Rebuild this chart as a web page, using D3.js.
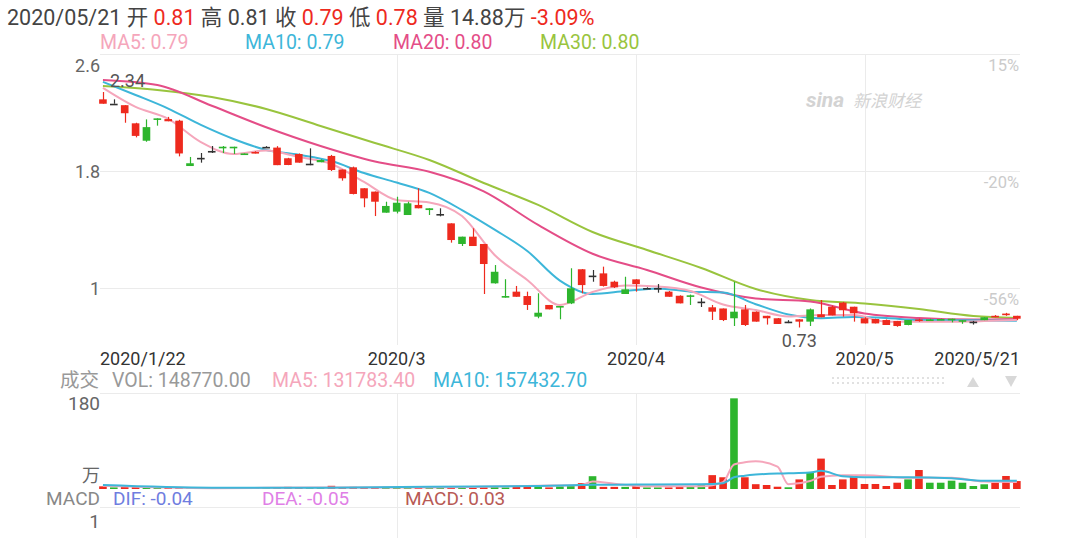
<!DOCTYPE html>
<html><head><meta charset="utf-8">
<script src="https://cdn.jsdelivr.net/npm/d3@7"></script>
<style>body{margin:0;background:#fff;}svg{display:block;font-family:Roboto,"Noto Sans CJK SC",sans-serif;}</style>
</head><body><svg id="c" width="1080" height="538"></svg>
<script>
const dates = [
"2020-01-22","2020-01-23","2020-01-24","2020-01-27","2020-01-28","2020-01-29","2020-01-30","2020-01-31",
"2020-02-03","2020-02-04","2020-02-05","2020-02-06","2020-02-07","2020-02-10","2020-02-11","2020-02-12","2020-02-13","2020-02-14",
"2020-02-18","2020-02-19","2020-02-20","2020-02-21","2020-02-24","2020-02-25","2020-02-26","2020-02-27","2020-02-28",
"2020-03-02","2020-03-03","2020-03-04","2020-03-05","2020-03-06","2020-03-09","2020-03-10","2020-03-11","2020-03-12","2020-03-13",
"2020-03-16","2020-03-17","2020-03-18","2020-03-19","2020-03-20","2020-03-23","2020-03-24","2020-03-25","2020-03-26","2020-03-27",
"2020-03-30","2020-03-31",
"2020-04-01","2020-04-02","2020-04-03","2020-04-06","2020-04-07","2020-04-08","2020-04-09","2020-04-13","2020-04-14","2020-04-15",
"2020-04-16","2020-04-17","2020-04-20","2020-04-21","2020-04-22","2020-04-23","2020-04-24","2020-04-27","2020-04-28","2020-04-29","2020-04-30",
"2020-05-01","2020-05-04","2020-05-05","2020-05-06","2020-05-07","2020-05-08","2020-05-11","2020-05-12","2020-05-13","2020-05-14","2020-05-15",
"2020-05-18","2020-05-19","2020-05-20","2020-05-21"];
const opens = [2.29,2.26,2.25,2.126,2.007,2.15,2.155,2.144,1.834,1.89, 1.937,1.96,1.958,1.915,1.93,1.965,1.96,1.887,1.916,1.85,
 1.86,1.903,1.81,1.825,1.682,1.659,1.515,1.522,1.499,1.568, 1.533,1.506,1.442,1.301,1.351,1.301,1.032,0.934,0.975,0.945,
 0.804,0.884,0.87,0.895,1.128,1.085,1.10,1.043,0.959,1.059, 1.0,1.0,0.975,0.947,0.945,0.907,0.868,0.86,0.793,0.854,
 0.838,0.81,0.793,0.77,0.786,0.77,0.82,0.872,0.90,0.872, 0.793,0.788,0.781,0.774,0.747,0.785,0.775,0.78,0.783,0.775,
 0.77,0.78,0.81,0.825,0.81];
const highs = [2.34,2.29,2.25,2.13,2.153,2.16,2.17,2.15,1.896,1.923, 1.971,1.971,1.966,1.92,1.935,1.97,1.97,1.89,1.92,1.955,
 1.88,1.91,1.81,1.83,1.682,1.66,1.59,1.624,1.59,1.682, 1.545,1.545,1.442,1.351,1.408,1.301,1.157,1.06,1.014,0.975,
 0.964,0.884,0.877,1.135,1.13,1.123,1.146,1.05,1.077,1.06, 1.005,1.027,0.98,0.95,0.955,0.93,0.884,0.86,1.043,0.884,
 0.84,0.81,0.795,0.78,0.786,0.86,0.918,0.88,0.905,0.872, 0.80,0.79,0.785,0.775,0.781,0.79,0.79,0.79,0.79,0.78,
 0.775,0.80,0.815,0.83,0.81];
const lows = [2.26,2.26,2.13,2.03,2.0,2.11,2.14,1.90,1.834,1.857, 1.923,1.923,1.916,1.915,1.92,1.96,1.84,1.84,1.857,1.84,
 1.86,1.80,1.734,1.64,1.552,1.492,1.515,1.51,1.499,1.545, 1.499,1.49,1.31,1.287,1.287,0.959,1.03,0.934,0.94,0.85,
 0.793,0.854,0.786,0.89,0.964,1.043,1.01,1.0,0.959,0.975, 0.995,0.968,0.94,0.895,0.884,0.87,0.781,0.774,0.74,0.74,
 0.77,0.75,0.754,0.76,0.73,0.74,0.80,0.813,0.804,0.77, 0.758,0.758,0.747,0.735,0.745,0.77,0.775,0.78,0.765,0.755,
 0.75,0.78,0.80,0.81,0.78];
const closes = [2.26,2.26,2.195,2.04,2.10,2.16,2.14,1.92,1.853,1.89, 1.937,1.966,1.966,1.92,1.92,1.965,1.84,1.841,1.857,1.85,
 1.875,1.807,1.75,1.643,1.613,1.59,1.561,1.583,1.579,1.545, 1.545,1.506,1.328,1.351,1.287,1.164,1.111,0.945,0.94,0.884,
 0.831,0.854,0.877,0.998,1.02,1.085,1.014,1.005,0.991,1.027, 1.0,1.0,0.94,0.895,0.95,0.907,0.838,0.781,0.838,0.747,
 0.77,0.793,0.754,0.77,0.77,0.854,0.80,0.813,0.848,0.827, 0.758,0.758,0.747,0.74,0.781,0.775,0.785,0.788,0.79,0.78,
 0.77,0.80,0.80,0.815,0.79];
// volume in 万
const volumes = [5,3,4,4,3,2,2,3,2,1.5, 1.5,1.5,2,1.5,1.5,1.5,2,4,3,3, 2,6,3,4,3,3,4,3,3,3, 2,5,3,3,3,4,4,3,4,4,
 4,3,5,6, 11,24,4,4,4,7,3,3,3,4, 4,9,26,22,170,22,9,7.5,4.3,3.2, 18,32,57,7.5,18,26,9.4,9.4,5.6,11.8,
 18,35.6,11.8,11.8,15.6,11.8,5.6,8.8,11.8,24.4, 14.88];
// moving averages (sample index -> value)
const maIdxFine = [0,3,6,9,12,15,18,21,24,27,30,33,36,39,42,45,48,51,54,57,60,63,66,69,72,75,78,81,84];
const ma5 = [2.368,2.238,2.156,1.998,1.916,1.940,1.896,1.848,1.725,1.602,1.585,1.492,1.226,1.055,0.884,0.973,1.017,1.010,0.979,0.887,0.850,0.805,0.815,0.815,0.770,0.770,0.770,0.774,0.781];
const ma10 = [2.409,2.320,2.227,2.115,2.019,1.944,1.911,1.868,1.786,1.721,1.650,1.533,1.399,1.253,1.051,0.959,0.979,0.997,0.975,0.969,0.889,0.819,0.794,0.802,0.795,0.781,0.780,0.778,0.776];
const maIdxCoarse = [0,5,10,15,20,25,30,35,40,45,50,55,60,65,70,75,80,84];
const ma20 = [2.422,2.388,2.246,2.099,1.971,1.865,1.795,1.661,1.431,1.234,1.123,1.003,0.928,0.908,0.826,0.795,0.784,0.788];
const ma30 = [2.381,2.354,2.306,2.224,2.108,1.991,1.875,1.718,1.568,1.383,1.260,1.137,0.993,0.918,0.894,0.856,0.809,0.795];
const volMaIdx = [0,10,20,30,40,44,45,47,50,55,57,58,59,60,62,63,65,66,68,70,74,78,81,84];
const volMa5 = [6,1.5,3,3,6,7.5,14,10,5,5,13,46,50,52,42,9,15,23,26,26,21,21,14,13.2];
const volMa10 = [7.5,2.5,2.5,4,5.6,7.5,8,8,8.5,9,11,22,25,27,29,29.5,31,34,24,22,22,20,15.6,15.7];
const priceTicks = [2.6, 1.8, 1];
const pctTicks = ["15%", "-20%", "-56%"];
const xTickDates = ["2020-01-22","2020-03-02","2020-04-01","2020-05-01","2020-05-21"];
const xTickLabels = ["2020/1/22","2020/3","2020/4","2020/5","2020/5/21"];

const RED = "#ee2a1e", GREEN = "#2db52d", DARK = "#333";
const C_MA5 = "#f5a6bb", C_MA10 = "#3db6d9", C_MA20 = "#e44d87", C_MA30 = "#99c43e";
const svg = d3.select("#c");
svg.append("rect").attr("width",1080).attr("height",538).attr("fill","#fff");

const x = d3.scaleBand().domain(dates).range([97.5, 1022.3]).paddingInner(0.3).paddingOuter(0.15);
const cx = i => x(dates[i]) + x.bandwidth()/2;
const y = d3.scaleLinear().domain([1, 2.6]).range([288, 54]);
const yv = d3.scaleLinear().domain([0, 180]).range([489, 393]);
const L = 100, R = 1020;
const grid = "#ebebeb";
const LEG = 19.5, AX = 18;

// grid
const g = svg.append("g");
priceTicks.forEach(t => g.append("line").attr("x1",L).attr("x2",R).attr("y1",y(t)+0.5).attr("y2",y(t)+0.5).attr("stroke",grid));
g.append("line").attr("x1",L).attr("x2",R).attr("y1",yv(180)+0.5).attr("y2",yv(180)+0.5).attr("stroke",grid);
g.append("line").attr("x1",L).attr("x2",R).attr("y1",507.5).attr("y2",507.5).attr("stroke",grid);
xTickDates.slice(1,4).forEach(d => {
  const xx = Math.round(x(d)+x.bandwidth()/2)+0.5;
  [[54,345],[393,538]].forEach(([a,b]) => g.append("line").attr("x1",xx).attr("x2",xx).attr("y1",a).attr("y2",b).attr("stroke",grid));
});

// watermark
svg.append("text").attr("x",806).attr("y",107).attr("font-size",21).attr("font-style","italic").attr("font-weight","bold").attr("fill","#d3d3d3").text("sina");
svg.append("text").attr("x",853).attr("y",107).attr("font-size",17).attr("font-style","italic").attr("fill","#d3d3d3").text("新浪财经");

// price axis labels
svg.selectAll(".pl").data(priceTicks).enter().append("text").attr("x",100).attr("text-anchor","end")
  .attr("y",(t,i)=> (i===0 ? y(t)+11 : y(t)) + 6.5).attr("font-size",AX).attr("fill","#666").text(t=>t);
svg.selectAll(".pr").data(pctTicks).enter().append("text").attr("x",1019).attr("text-anchor","end")
  .attr("y",(t,i)=> y(priceTicks[i]) + 17).attr("font-size",16.5).attr("fill","#cbcbcb").text(t=>t);

// MA lines
function maLine(idx, vals, color, sc){
  const line = d3.line().x((v,k)=>cx(idx[k])).y(v=>sc(v)).curve(d3.curveMonotoneX);
  svg.append("path").attr("d", line(vals)).attr("fill","none").attr("stroke",color).attr("stroke-width",2);
}
maLine(maIdxCoarse, ma30, C_MA30, y);
maLine(maIdxCoarse, ma20, C_MA20, y);
maLine(maIdxFine, ma10, C_MA10, y);
maLine(maIdxFine, ma5, C_MA5, y);

// candles
const colorOf = i => closes[i] > opens[i] ? GREEN : (closes[i] < opens[i] ? RED : DARK);
const cg = svg.append("g");
const bw = x.bandwidth();
dates.forEach((d,i) => {
  const col = colorOf(i);
  const xc = Math.round(cx(i)) + 0.5;
  cg.append("line").attr("x1",xc).attr("x2",xc).attr("y1",y(highs[i])).attr("y2",y(lows[i])).attr("stroke",col).attr("stroke-width",1.2);
  const top = y(Math.max(opens[i],closes[i])), bot = y(Math.min(opens[i],closes[i]));
  const h = Math.max(bot-top, 1.6);
  cg.append("rect").attr("x",x(d)).attr("y",top).attr("width",bw).attr("height",h).attr("fill",col);
});

// max / min labels
const iMax = d3.maxIndex(highs), iMin = d3.minIndex(lows);
svg.append("text").attr("x",cx(iMax)+7).attr("y",y(highs[iMax])-5).attr("font-size",AX).attr("fill","#555").text(highs[iMax].toFixed(2));
svg.append("text").attr("x",cx(iMin)).attr("y",y(lows[iMin])+20).attr("text-anchor","middle").attr("font-size",AX).attr("fill","#555").text(lows[iMin].toFixed(2));

// x labels
xTickDates.forEach((d,k) => {
  const anchor = k===0 ? "start" : (k===xTickDates.length-1 ? "end" : "middle");
  const xx = k===0 ? L : (k===xTickDates.length-1 ? R : cx(dates.indexOf(d)));
  svg.append("text").attr("x",xx).attr("y",365).attr("text-anchor",anchor).attr("font-size",AX).attr("fill","#333").text(xTickLabels[k]);
});

// scroll dots & arrows
for (let r=0;r<2;r++) svg.append("line").attr("x1",832).attr("x2",946).attr("y1",378+r*5).attr("y2",378+r*5).attr("stroke","#d8d8d8").attr("stroke-width",1.5).attr("stroke-dasharray","2,3");
svg.append("path").attr("d","M967,387 L973,377 L979,387 Z").attr("fill","#d8d8d8");
svg.append("path").attr("d","M1005,376 L1017,376 L1011,387 Z").attr("fill","#d8d8d8");

// volume bars (flat days drawn as up days)
const volColor = i => closes[i] < opens[i] ? RED : GREEN;
const vg = svg.append("g");
dates.forEach((d,i) => {
  const top = yv(volumes[i]);
  vg.append("rect").attr("x",x(d)).attr("y",Math.min(top, 487.5)).attr("width",bw).attr("height",Math.max(489-top,1.5)).attr("fill",volColor(i));
});
maLine(volMaIdx, volMa5, C_MA5, yv);
maLine(volMaIdx, volMa10, C_MA10, yv);

// volume axis labels
svg.append("text").attr("x",100).attr("y",410).attr("text-anchor","end").attr("font-size",AX+1).attr("fill","#666").text("180");
svg.append("text").attr("x",100).attr("y",482).attr("text-anchor","end").attr("font-size",AX).attr("fill","#666").text("万");
svg.append("text").attr("x",100).attr("y",528).attr("text-anchor","end").attr("font-size",AX+1).attr("fill","#666").text("1");

// headers
const h1 = svg.append("text").attr("x",7).attr("y",25).attr("font-size",21.5).attr("fill","#444");
[["2020/05/21 开 ","#444"],["0.81",RED],[" 高 0.81 收 ","#444"],["0.79",RED],[" 低 ","#444"],["0.78",RED],[" 量 14.88万 ","#444"],["-3.09%",RED]]
  .forEach(([t,c]) => h1.append("tspan").attr("fill",c).text(t));
[["MA5: 0.79",100,C_MA5],["MA10: 0.79",245,C_MA10],["MA20: 0.80",393,C_MA20],["MA30: 0.80",540,C_MA30]]
  .forEach(([t,xx,c]) => svg.append("text").attr("x",xx).attr("y",49).attr("font-size",LEG).attr("fill",c).text(t));
[["成交",60,"#999"],["VOL: 148770.00",112,"#999"],["MA5: 131783.40",272,C_MA5],["MA10: 157432.70",433,C_MA10]]
  .forEach(([t,xx,c]) => svg.append("text").attr("x",xx).attr("y",387).attr("font-size",LEG).attr("fill",c).text(t));
svg.append("text").attr("x",100).attr("y",504.5).attr("text-anchor","end").attr("font-size",19).attr("fill","#888").text("MACD");
[["DIF: -0.04",113,"#6f7de0"],["DEA: -0.05",262,"#e07fe6"],["MACD: 0.03",405,"#b85a55"]]
  .forEach(([t,xx,c]) => svg.append("text").attr("x",xx).attr("y",504.5).attr("font-size",19).attr("fill",c).text(t));
</script></body></html>
